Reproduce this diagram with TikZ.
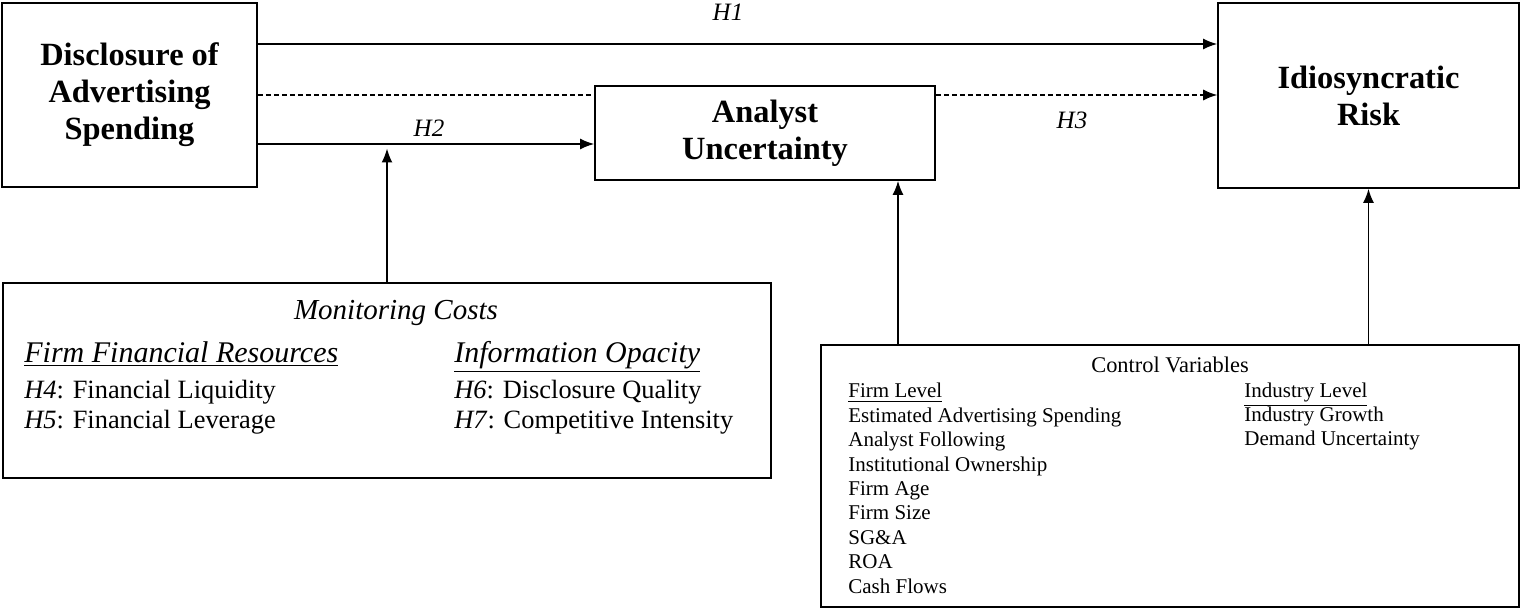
\documentclass[tikz,border=0pt]{standalone}
\usepackage{fontspec}
\setmainfont{Liberation Serif}
\usetikzlibrary{positioning, arrows.meta}
\tikzset{
	concept/.style={draw, rectangle, line width=0.8pt, inner sep=2pt, align=center, font=\fontsize{16.2}{18.5}\selectfont\bfseries},
	panel/.style={draw, rectangle, line width=0.8pt, inner sep=0pt},
	% hypothesis labels on the paths
	hyp/.style={inner sep=0pt, font=\fontsize{12.5}{14}\selectfont\itshape},
	head/.style={anchor=west, inner sep=0pt, font=\fontsize{15}{17}\selectfont\itshape, text height=1.6ex, text depth=.6ex},
	entry/.style={anchor=west, inner sep=0pt, font=\fontsize{13.2}{15}\selectfont, text height=1.6ex, text depth=.3ex},
	ctrl/.style={anchor=west, inner sep=0pt, font=\fontsize{10.5}{12.25}\selectfont, text height=1.6ex, text depth=.3ex},
}

\begin{document}
\begin{tikzpicture}[x=0.5pt, y=-0.5pt]
		\useasboundingbox (0,0) rectangle (1521,609);
		
		\node (das) [concept, minimum width=127.5pt, minimum height=92pt] at (129.5,95) {Disclosure of\\Advertising\\Spending};
		\node (au) [concept, minimum width=170pt, minimum height=47pt] at (765,133) {Analyst\\Uncertainty};
		\node (ir) [concept, minimum width=150.5pt, minimum height=92.5pt] at (1368.5,95.5) {Idiosyncratic\\Risk};
		
		\node (h1) [hyp] at (728,12) {H1};
		\node (h2) [hyp] at (429,128) {H2};
		\node (h3) [hyp] at (1072,120) {H3};
		
		% moderators
		\node (mc) [panel, minimum width=384pt, minimum height=97.5pt] at (387,380.5) {};
		\node (mctitle) [hyp, font=\fontsize{14.5}{17}\selectfont\itshape] at (396,313) {Monitoring Costs};
		\node (ffr) [head] at (24,358) {\underline{Firm Financial Resources}};
		\node (h4) [entry] at (24,393) {\textit{H4}: Financial Liquidity};
		\node (h5) [entry] at (24,423) {\textit{H5}: Financial Leverage};
		\node (iop) [head] at (454,358) {\underline{Information Opacity}};
		\node (h6) [entry] at (454,393) {\textit{H6}: Disclosure Quality};
		\node (h7) [entry] at (454,423) {\textit{H7}: Competitive Intensity};
		
		% controls
		\node (cv) [panel, minimum width=349pt, minimum height=131pt] at (1170,476) {};
		\node (cvtitle) [ctrl, anchor=center, font=\fontsize{11.2}{13}\selectfont] at (1170,367) {Control Variables};
		\node (firm) [ctrl] at (848,392) {\underline{Firm Level}};
		\foreach \txt [count=\i] in {Estimated Advertising Spending, Analyst Following, Institutional Ownership, Firm Age, Firm Size, SG\&A, ROA, Cash Flows}
			\node (fv\i) [ctrl] at (848,392+\i*24.4) {\txt};
		\node (ind) [ctrl] at (1244,392) {\underline{Industry Level}};
		\node (iv1) [ctrl] at (1244,416) {Industry Growth};
		\node (iv2) [ctrl] at (1244,440) {Demand Uncertainty};
		
		\coordinate (h1s) at ([yshift=25.5pt]das.east);
		\coordinate (h2s) at ([yshift=-24.5pt]das.east);
		\coordinate (h2m) at (h2s -| mc.north);
		\coordinate (h2tip) at ([yshift=-2.25pt]h2m);
		\coordinate (aulink) at ([xshift=66.5pt]au.south);
		
		\begin{scope}[line width=0.8pt, black, ->, >={Latex[length=7pt, width=5.5pt]}]
			
			\draw (h1s) -- (h1s -| ir.west);
			\draw (h2s) -- (h2s -| au.west);
			\draw [-, line width=0.6pt, dash pattern=on 2.5pt off 1.5pt] (das.east) -- (das.east -| au.west);
			\draw [line width=0.6pt, dash pattern=on 2.5pt off 1.5pt] (das.east -| au.east) -- (das.east -| ir.west);
			\draw (mc.north) -- (h2tip);
			\draw (aulink |- cv.north) -- (aulink);
			\draw (ir.south |- cv.north) -- (ir.south);
			
		\end{scope}
		
	\end{tikzpicture}
\end{document}
